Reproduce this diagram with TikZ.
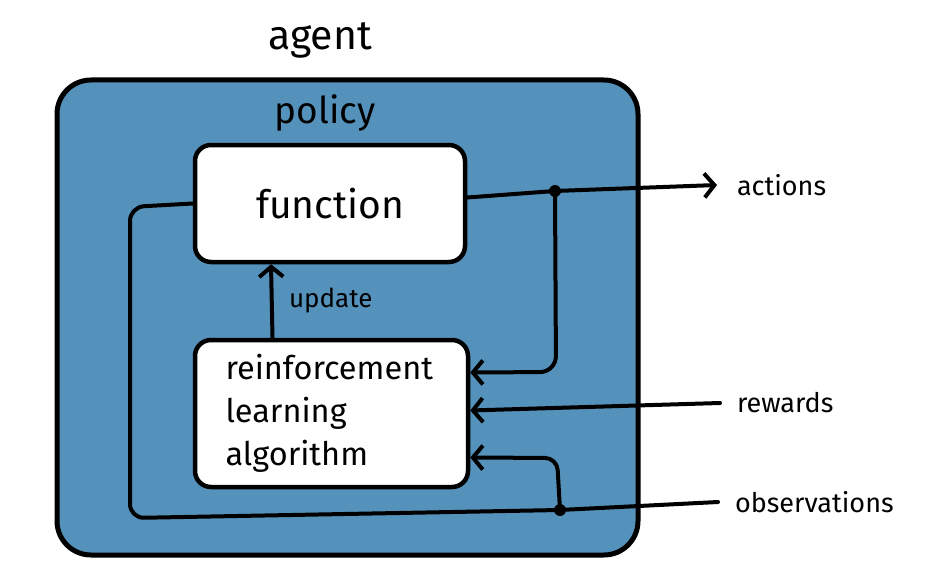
\documentclass[tikz,border=0pt]{standalone}
\usepackage{fontspec}
\setmainfont{Fira Sans}
\usetikzlibrary{arrows.meta}
\definecolor{agentblue}{RGB}{84,146,187}
\begin{document}
\begin{tikzpicture}[x=1pt, y=-1pt, line width=4pt, line cap=round, line join=round,
    box/.style={draw, fill=white, rounded corners=16pt, line width=4.5pt},
    lbl/.style={font=\fontsize{27}{30}\selectfont, anchor=west, inner sep=0pt},
    arr/.style={-{Straight Barb[length=10pt, width=24pt]}},
    dot/.style={circle, fill=black, inner sep=0pt, minimum size=12pt}]
  \useasboundingbox (0,0) rectangle (927,578);
  % agent
  \draw[fill=agentblue, rounded corners=34pt, line width=5pt] (57,80) rectangle (638,555);
  \node (agent) at (320,40) {\fontsize{41}{44}\selectfont agent};
  \node (policy) at (325,113) {\fontsize{37}{40}\selectfont policy};
  % boxes
  \node[box, minimum width=270pt, minimum height=117pt] (func) at (330,203.5) {\fontsize{39}{42}\selectfont function};
  \node[box, minimum width=273pt, minimum height=147pt, align=left, text width=212pt, font=\fontsize{32.5}{43}\selectfont] (rl) at (331.5,413.5) {reinforcement\\learning\\algorithm};
  % outside labels
  \node[lbl] (actions) at (735,185) {actions};
  \node[lbl] (rewards) at (735,403) {rewards};
  \node[lbl] (obs) at (733,502) {observations};
  \coordinate (actdot) at (555,191);
  \coordinate (obsdot) at (560,510);
  % update
  \draw[arr] ([xshift=-59pt]rl.north) -- ([xshift=-59pt]func.south) node[midway, right=12pt, font=\fontsize{26}{28}\selectfont] (upd) {update};
  % actions
  \draw[arr] ([yshift=6pt]func.east) -- (actdot) -- ([xshift=-18pt]actions.west);
  \draw[arr, rounded corners=16pt] (actdot) -- (556,372) -- ([yshift=41pt]rl.east);
  % rewards
  \draw[arr] ([xshift=-15pt]rewards.west) -- ([yshift=3pt]rl.east);
  % observations
  \draw[rounded corners=14pt] (func.west) -- (130,207) -- (130,518) -- (obsdot) -- ([xshift=-15pt]obs.west);
  \draw[arr, rounded corners=12pt] (obsdot) -- (557,458) -- ([yshift=-44pt]rl.east);
  \node[dot] at (actdot) {};
  \node[dot] at (obsdot) {};
\end{tikzpicture}
\end{document}
